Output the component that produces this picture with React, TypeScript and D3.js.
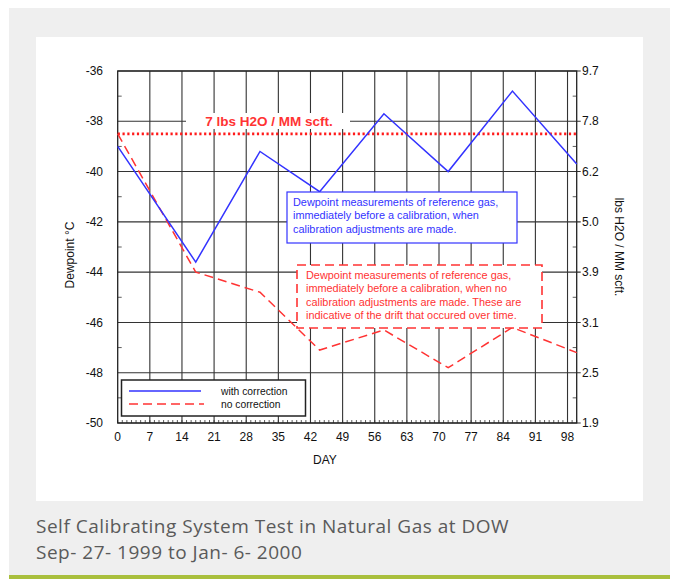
import React from "react";
import * as d3 from "d3";

// days of each calibration check
const days = [0, 17, 31, 44, 58, 72, 86, 100];
const withCorrection = [-39.0, -43.6, -39.2, -40.8, -37.7, -40.0, -36.8, -39.7];
const noCorrection = [-38.5, -44.0, -44.8, -47.1, -46.3, -47.8, -46.2, -47.2];

const limitDewpoint = -38.5;
const limitLabel = "7 lbs H2O / MM scft.";

const xTicks = [0, 7, 14, 21, 28, 35, 42, 49, 56, 63, 70, 77, 84, 91, 98];
const yTicks = [-36, -38, -40, -42, -44, -46, -48, -50];
const rightLabels = ["9.7", "7.8", "6.2", "5.0", "3.9", "3.1", "2.5", "1.9"];

const blueNote = [
  "Dewpoint measurements of reference gas,",
  "immediately before a calibration, when",
  "calibration adjustments are made.",
];
const redNote = [
  "Dewpoint measurements of reference gas,",
  "immediately before a calibration, when no",
  "calibration adjustments are made. These are",
  "indicative of the drift that occured over time.",
];
const caption = [
  "Self Calibrating System Test in Natural Gas at DOW",
  "Sep- 27- 1999 to Jan- 6- 2000",
];

const BLUE = "#3333ff";
const RED = "#ff3333";
const GRID = "#333";
const FONT = "'Liberation Sans', Arial, sans-serif";

const App = () => {
  const left = 117.7, right = 576.7, top = 71, bottom = 423;
  const x = d3.scaleLinear().domain([0, 100]).range([left, right]);
  const y = d3.scaleLinear().domain([-50, -36]).range([bottom, top]);

  const line = d3.line<number>()
    .x((_, i) => x(days[i]))
    .y(d => y(d));

  const minorX = d3.range(0, 101, 1);
  const minorY = d3.range(-49, -36, 2);

  return (
    <svg width={675} height={579} style={{ position: "absolute", left: 0, top: 0 }}>
      <rect x={9} y={8} width={661} height={571} fill="#efefef" />
      <rect x={36} y={37} width={607} height={464} fill="#ffffff" />
      <rect x={9} y={575} width={661} height={4} fill="#a9bf3d" />

      {/* grid */}
      {xTicks.filter(t => t > 0).map(t => (
        <line key={"gx" + t} x1={x(t)} x2={x(t)} y1={top} y2={bottom} stroke={GRID} strokeWidth={1.1} />
      ))}
      {yTicks.map(t => (
        <line key={"gy" + t} x1={left} x2={right + 4} y1={y(t)} y2={y(t)} stroke={GRID} strokeWidth={1.1} />
      ))}

      {/* minor ticks */}
      {minorX.map(t => (
        <line key={"mx" + t} x1={x(t)} x2={x(t)} y1={bottom} y2={bottom - 3} stroke={GRID} strokeWidth={0.8} />
      ))}
      {minorY.map(t => (
        <g key={"my" + t}>
          <line x1={left} x2={left + 4} y1={y(t)} y2={y(t)} stroke={GRID} strokeWidth={0.8} />
          <line x1={right} x2={right - 4} y1={y(t)} y2={y(t)} stroke={GRID} strokeWidth={0.8} />
        </g>
      ))}

      {/* frame */}
      <rect x={left} y={top} width={right - left} height={bottom - top} fill="none" stroke="#222" strokeWidth={1.3} />

      {/* limit label */}
      <rect x={186} y={113} width={164} height={16} fill="#ffffff" />
      <text x={269} y={121} dy="0.35em" textAnchor="middle" fill={RED} fontFamily={FONT} fontSize={13.5} fontWeight="bold">
        {limitLabel}
      </text>
      <line x1={left} x2={right} y1={y(limitDewpoint)} y2={y(limitDewpoint)}
        stroke="#ff1a1a" strokeWidth={2.6} strokeDasharray="2.2 2.6" />

      {/* series */}
      <path d={line(noCorrection) ?? ""} fill="none" stroke={RED} strokeWidth={1.5} strokeDasharray="9 5" />
      <path d={line(withCorrection) ?? ""} fill="none" stroke={BLUE} strokeWidth={1.5} />

      {/* notes */}
      <rect x={287} y={192} width={230} height={51} fill="#ffffff" stroke={BLUE} strokeWidth={1.2} />
      {blueNote.map((s, i) => (
        <text key={"bn" + i} x={293} y={202 + i * 13.5} dy="0.35em" fill={BLUE} fontFamily={FONT} fontSize={10.9}>{s}</text>
      ))}
      <rect x={297} y={265} width={245} height={63} fill="#ffffff" stroke={RED} strokeWidth={1.6} strokeDasharray="9 5" />
      {redNote.map((s, i) => (
        <text key={"rn" + i} x={306} y={275 + i * 13.5} dy="0.35em" fill={RED} fontFamily={FONT} fontSize={10.9}>{s}</text>
      ))}

      {/* legend */}
      <rect x={121.5} y={380} width={184} height={36} fill="#ffffff" stroke="#222" strokeWidth={1.5} />
      <line x1={129} x2={201} y1={391} y2={391} stroke={BLUE} strokeWidth={1.5} />
      <line x1={129} x2={204} y1={404} y2={404} stroke={RED} strokeWidth={1.5} strokeDasharray="9 5" />
      <text x={221} y={391} dy="0.35em" fontFamily={FONT} fontSize={10.3} fill="#111">with correction</text>
      <text x={221} y={404} dy="0.35em" fontFamily={FONT} fontSize={10.3} fill="#111">no correction</text>

      {/* axes labels */}
      {yTicks.map(t => (
        <text key={"ly" + t} x={103} y={y(t)} dy="0.35em" textAnchor="end" fontFamily={FONT} fontSize={12} fill="#111">{t}</text>
      ))}
      {yTicks.map((t, i) => (
        <text key={"ry" + t} x={582} y={y(t)} dy="0.35em" fontFamily={FONT} fontSize={12} fill="#111">{rightLabels[i]}</text>
      ))}
      {xTicks.map(t => (
        <text key={"lx" + t} x={x(t)} y={437} dy="0.35em" textAnchor="middle" fontFamily={FONT} fontSize={12} fill="#111">{t}</text>
      ))}
      <text x={325} y={460} dy="0.35em" textAnchor="middle" fontFamily={FONT} fontSize={12} fill="#111">DAY</text>
      <text transform="translate(70,255) rotate(-90)" dy="0.35em" textAnchor="middle" fontFamily={FONT} fontSize={12} fill="#111">
        Dewpoint °C
      </text>
      <text transform="translate(619,247) rotate(90)" dy="0.35em" textAnchor="middle" fontFamily={FONT} fontSize={12} fill="#111">
        lbs H2O / MM scft.
      </text>

      {/* caption */}
      {caption.map((s, i) => (
        <text key={"cap" + i} x={36} y={533 + i * 26} fontFamily="'Open Sans', sans-serif" fontSize={19}
          letterSpacing={0.5} fill="#5a5a5a">{s}</text>
      ))}
    </svg>
  );
};

export default App;
